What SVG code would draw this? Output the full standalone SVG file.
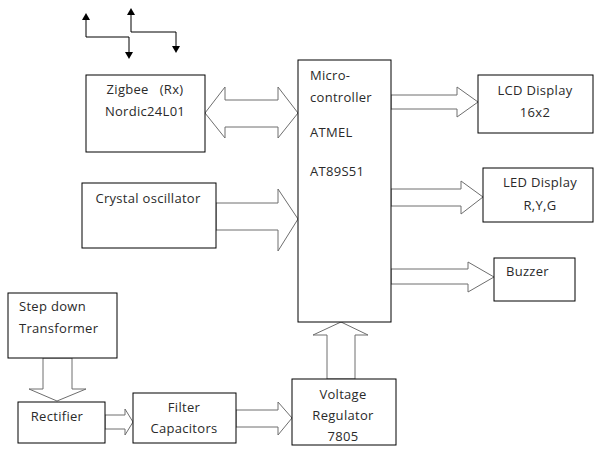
<svg xmlns="http://www.w3.org/2000/svg" width="594" height="455" viewBox="0 0 594 455">
<style>
.box{fill:#fff;stroke:#000;stroke-width:1}
.arr{fill:#fff;stroke:#6e6e6e;stroke-width:1;stroke-linejoin:miter}
text{font-family:"Open Sans","DejaVu Sans",sans-serif;font-size:13px;letter-spacing:0.3px;fill:#2a2a2a}
.c{text-anchor:middle}
</style>
<rect width="594" height="455" fill="#fff"/>
<g id="connectors">
<polygon class="arr" points="205,113 225,87 225,100 278,100 278,87 298,113 278,138 278,127 225,127 225,138"/>
<polygon class="arr" points="216,203 278,203 278,189 298,219 278,251 278,230 216,230"/>
<polygon class="arr" points="391,95 457,95 457,87 478,102 457,117 457,109 391,109"/>
<polygon class="arr" points="391,189 461,189 461,181 483,197 461,214 461,206 391,206"/>
<polygon class="arr" points="391,269 468,269 468,262 494,277 468,292 468,284 391,284"/>
<polygon class="arr" points="327,379 327,335 313,335 341,322 368,335 355,335 355,379"/>
<polygon class="arr" points="43,358 43,389 29,389 57,401 86,389 72,389 72,358"/>
<polygon class="arr" points="105,415 125,415 125,409 133,422 125,435 125,429 105,429"/>
<polygon class="arr" points="236,410 278,410 278,402 292,418 278,435 278,427 236,427"/>
</g>
<g id="antenna">
<path d="M86,20 V37 H129 V52 M131,15 V32 H176 V46" fill="none" stroke="#000" stroke-width="1"/>
<polygon points="82,20 90,20 86,13"/>
<polygon points="125,52 133,52 129,59"/>
<polygon points="127,15 135,15 131,8"/>
<polygon points="172,46 180,46 176,53"/>
</g>
<g id="zigbee">
<rect class="box" x="86" y="75" width="119" height="77"/>
<text class="c" x="145" y="94" xml:space="preserve">Zigbee   (Rx)</text>
<text class="c" x="145" y="116">Nordic24L01</text>
</g>
<g id="micro">
<rect class="box" x="298" y="60" width="93" height="262"/>
<text x="310" y="80">Micro-</text>
<text x="310" y="102">controller</text>
<text x="310" y="137">ATMEL</text>
<text x="310" y="176">AT89S51</text>
</g>
<g id="crystal">
<rect class="box" x="82" y="183" width="134" height="65"/>
<text class="c" x="148" y="203">Crystal oscillator</text>
</g>
<g id="lcd">
<rect class="box" x="478" y="75" width="115" height="58"/>
<text class="c" x="535" y="95">LCD Display</text>
<text class="c" x="535" y="117">16x2</text>
</g>
<g id="led">
<rect class="box" x="483" y="168" width="110" height="54"/>
<text class="c" x="540" y="187">LED Display</text>
<text class="c" x="540" y="210">R,Y,G</text>
</g>
<g id="buzzer">
<rect class="box" x="494" y="258" width="81" height="43"/>
<text x="506" y="276">Buzzer</text>
</g>
<g id="stepdown">
<rect class="box" x="8" y="293" width="109" height="65"/>
<text x="19" y="311">Step down</text>
<text x="19" y="333">Transformer</text>
</g>
<g id="rectifier">
<rect class="box" x="18" y="402" width="87" height="41"/>
<text class="c" x="57" y="421">Rectifier</text>
</g>
<g id="filter">
<rect class="box" x="133" y="393" width="103" height="50"/>
<text class="c" x="184" y="412">Filter</text>
<text class="c" x="184" y="433">Capacitors</text>
</g>
<g id="regulator">
<rect class="box" x="292" y="379" width="104" height="66"/>
<text class="c" x="343" y="399">Voltage</text>
<text class="c" x="343" y="420">Regulator</text>
<text class="c" x="343" y="441">7805</text>
</g>
</svg>
